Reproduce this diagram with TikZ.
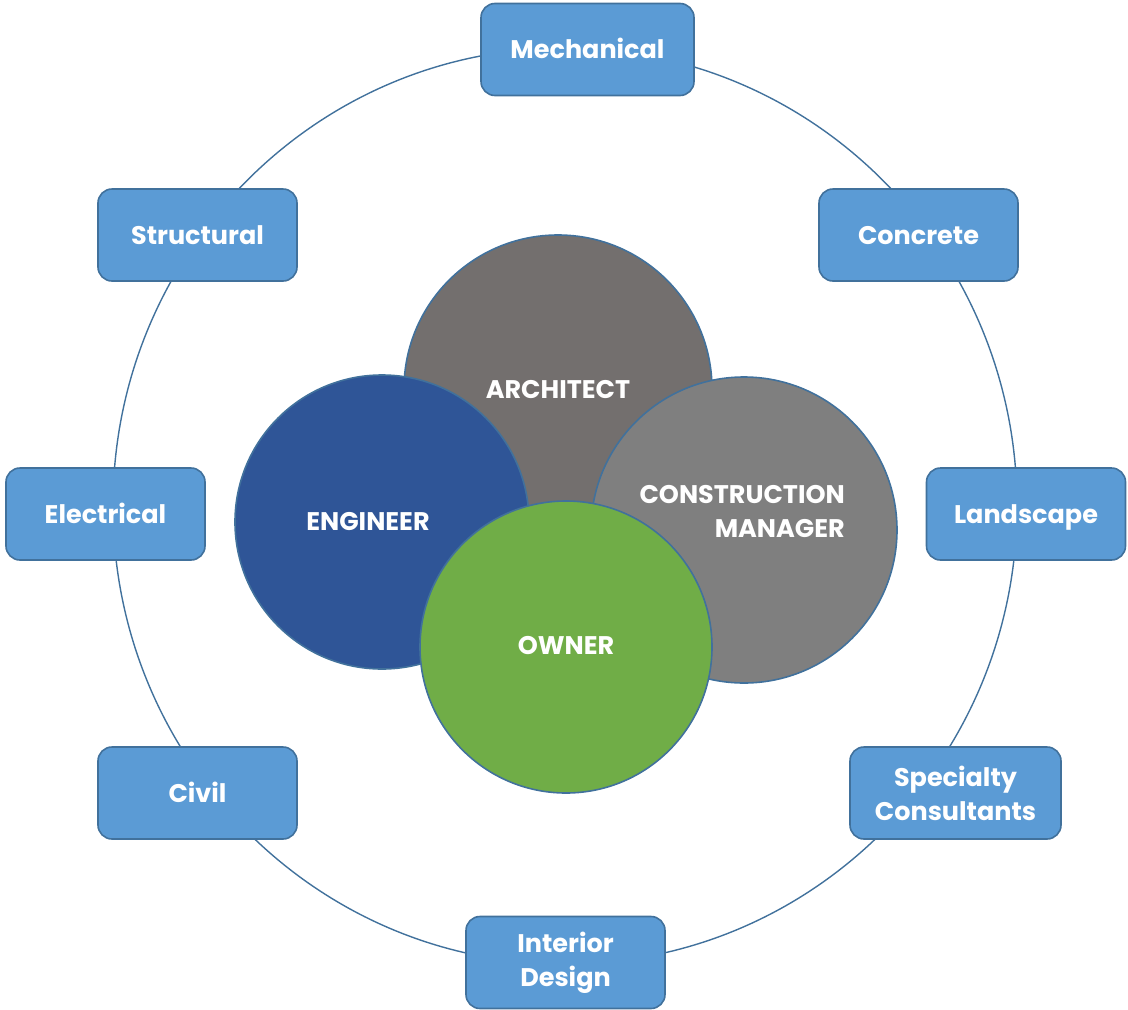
\documentclass[tikz,border=0pt]{standalone}
\usepackage{fontspec}
\setmainfont{Poppins}
\definecolor{boxfill}{HTML}{5B9BD5}
\definecolor{edge}{HTML}{41719C}
\definecolor{archgray}{HTML}{736F6E}
\definecolor{cmgray}{HTML}{7F7F7F}
\definecolor{engblue}{HTML}{2F5597}
\definecolor{ownergreen}{HTML}{70AD47}
\begin{document}
\begin{tikzpicture}[x=1pt,y=-1pt,
  lbl/.style={text=white,font=\bfseries\fontsize{25.5}{34}\selectfont},
  oneline/.style={text height=20pt,text depth=2pt},
  party/.style={lbl,draw=edge,line width=1.6pt,rounded corners=14pt,fill=boxfill,
    minimum width=199pt,minimum height=92pt,align=center,inner sep=0pt},
  core/.style={circle,draw=edge,line width=1.6pt,inner sep=0pt},
  ring/.style={draw=edge,line width=1.4pt}]
\useasboundingbox (0,0) rectangle (1128,1010);
% outer ring of consultants
\draw[ring] (565,506) ellipse [x radius=452, y radius=458];
% core team
\node[core,fill=archgray,minimum size=308pt] (arch) at (558,389) {};
\node[core,fill=engblue,minimum size=294pt] (eng) at (382,522) {};
\node[core,fill=cmgray,minimum size=306pt] (cm) at (744,530) {};
\node[core,fill=ownergreen,minimum size=292pt] (own) at (566,647) {};
\node[lbl,oneline] (archlbl) at (558,389) {ARCHITECT};
\node[lbl,oneline] (englbl) at (368,521) {ENGINEER};
\node[lbl,align=right,anchor=east,inner sep=0pt] (cmlbl) at (845,511) {CONSTRUCTION\\MANAGER};
\node[lbl,oneline] (ownlbl) at (566,645) {OWNER};
% consultants
\node[party,oneline,minimum width=213pt] (mech) at (587.5,49.5) {Mechanical};
\node[party,oneline] (struct) at (197.5,235) {Structural};
\node[party,oneline] (conc) at (918.5,235) {Concrete};
\node[party,oneline] (elec) at (105.5,514) {Electrical};
\node[party,oneline] (land) at (1026,514) {Landscape};
\node[party,oneline] (civil) at (197.5,793) {Civil};
\node[party,minimum width=211pt] (spec) at (955.5,793) {Specialty\\Consultants};
\node[party] (inter) at (565.5,962.5) {Interior\\Design};
\end{tikzpicture}
\end{document}
